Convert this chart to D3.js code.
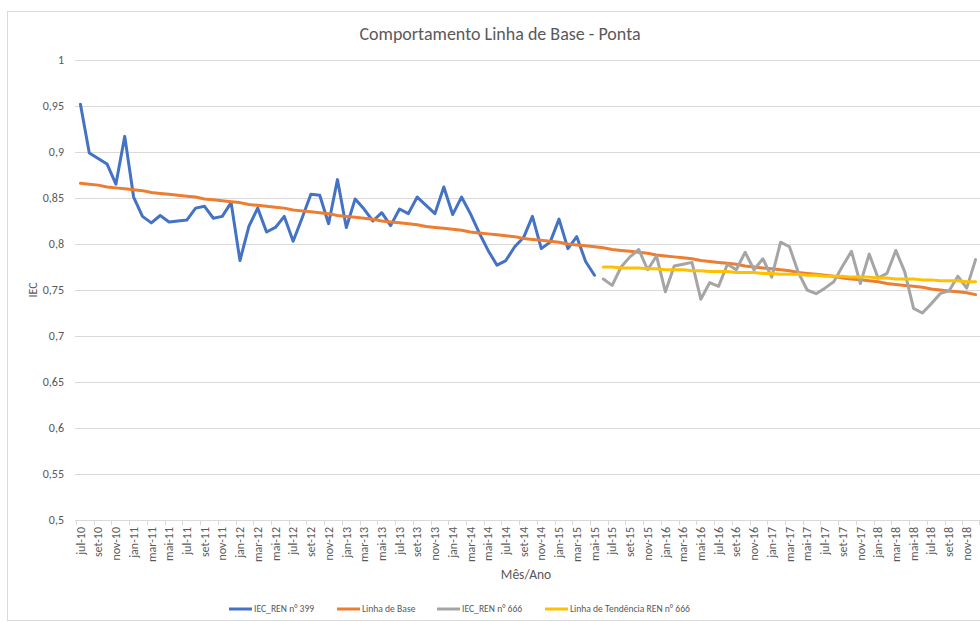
<!DOCTYPE html>
<html lang="pt-BR">
<head>
    <meta charset="UTF-8">
    <title>Comportamento Linha de Base - Ponta</title>
    <script src="https://d3js.org/d3.v7.min.js"></script>
    <style>
        body { margin: 0; background: #fff; }
        svg { display: block; font-family: Carlito, Lato, "Open Sans", sans-serif; }
        .grid line { stroke: #d9d9d9; stroke-width: 1; }
        .tick-label { fill: #595959; font-size: 12px; }
    </style>
</head>
<body>
<div id="chart"></div>
<script>
    // categorias: jul-10 .. dez-18
    const monthNames = ["jan", "fev", "mar", "abr", "mai", "jun", "jul", "ago", "set", "out", "nov", "dez"];
    const categories = [];
    for (let y = 2010; y <= 2018; y++) {
        monthNames.forEach((m, i) => {
            if (y === 2010 && i < 6) return;
            categories.push(m + "-" + String(y).slice(2));
        });
    }

    const yTicks = [0.5, 0.55, 0.6, 0.65, 0.7, 0.75, 0.8, 0.85, 0.9, 0.95, 1];

    // IEC_REN n° 399 (jul-10 .. mai-15)
    const ren399 = [0.952, 0.899, 0.893, 0.887, 0.865, 0.917, 0.851, 0.830, 0.823, 0.831,
        0.824, 0.825, 0.826, 0.839, 0.841, 0.828, 0.830, 0.845, 0.782, 0.819,
        0.839, 0.813, 0.818, 0.830, 0.803, 0.828, 0.854, 0.853, 0.822, 0.870,
        0.818, 0.849, 0.838, 0.825, 0.834, 0.820, 0.838, 0.833, 0.851, 0.842,
        0.833, 0.862, 0.832, 0.851, 0.833, 0.812, 0.793, 0.777, 0.782, 0.797,
        0.807, 0.830, 0.795, 0.802, 0.827, 0.795, 0.808, 0.781, 0.766];

    // Linha de Base (jul-10 .. dez-18)
    const linhaBase = [0.866, 0.865, 0.864, 0.862, 0.861, 0.860, 0.859, 0.858, 0.856, 0.855,
        0.854, 0.853, 0.852, 0.851, 0.849, 0.848, 0.847, 0.846, 0.845, 0.843,
        0.842, 0.841, 0.840, 0.839, 0.837, 0.836, 0.835, 0.834, 0.833, 0.831,
        0.830, 0.829, 0.828, 0.827, 0.825, 0.824, 0.823, 0.822, 0.821, 0.819,
        0.818, 0.817, 0.816, 0.815, 0.813, 0.812, 0.811, 0.810, 0.809, 0.808,
        0.806, 0.805, 0.804, 0.803, 0.802, 0.800, 0.799, 0.798, 0.797, 0.796,
        0.794, 0.793, 0.792, 0.791, 0.790, 0.788, 0.787, 0.786, 0.785, 0.784,
        0.782, 0.781, 0.780, 0.779, 0.778, 0.776, 0.775, 0.774, 0.773, 0.772,
        0.771, 0.769, 0.768, 0.767, 0.766, 0.765, 0.763, 0.762, 0.761, 0.760,
        0.759, 0.757, 0.756, 0.755, 0.754, 0.753, 0.751, 0.750, 0.749, 0.748,
        0.747, 0.745];

    // IEC_REN n° 666 (jun-15 .. dez-18)
    const ren666Start = "jun-15";
    const ren666 = [0.762, 0.755, 0.775, 0.786, 0.794, 0.772, 0.787, 0.748, 0.776, 0.778,
        0.780, 0.740, 0.758, 0.754, 0.778, 0.772, 0.791, 0.772, 0.784, 0.764,
        0.802, 0.797, 0.769, 0.750, 0.746, 0.752, 0.759, 0.776, 0.792, 0.757,
        0.789, 0.763, 0.768, 0.793, 0.770, 0.730, 0.725, 0.735, 0.746, 0.749,
        0.765, 0.752, 0.783];

    // Linha de Tendência REN n° 666 (jun-15 .. dez-18)
    const tendencia666 = [0.775, 0.775, 0.774, 0.774, 0.774, 0.773, 0.773, 0.772, 0.772, 0.772,
        0.771, 0.771, 0.770, 0.770, 0.770, 0.769, 0.769, 0.769, 0.768, 0.768,
        0.767, 0.767, 0.767, 0.766, 0.766, 0.765, 0.765, 0.765, 0.764, 0.764,
        0.764, 0.763, 0.763, 0.762, 0.762, 0.762, 0.761, 0.761, 0.760, 0.760,
        0.760, 0.759, 0.759];

    const width = 980, height = 622;
    const plot = { left: 76, right: 980, top: 60, bottom: 520 };

    const svg = d3.select("#chart").append("svg")
        .attr("width", width)
        .attr("height", height);

    // moldura
    svg.append("rect")
        .attr("x", 7.5).attr("y", 11.5)
        .attr("width", 990).attr("height", 609)
        .attr("fill", "#fff")
        .attr("stroke", "#d9d9d9");

    const x = d3.scaleBand()
        .domain(categories)
        .range([plot.left, plot.right]);

    const y = d3.scaleLinear()
        .domain([0.5, 1])
        .range([plot.bottom, plot.top]);

    const cx = c => x(c) + x.bandwidth() / 2;

    // grade horizontal
    svg.append("g")
        .attr("class", "grid")
        .selectAll("line")
        .data(yTicks)
        .enter().append("line")
        .attr("x1", plot.left - 1).attr("x2", plot.right)
        .attr("y1", d => Math.round(y(d)) + 0.5)
        .attr("y2", d => Math.round(y(d)) + 0.5);

    // rótulos do eixo Y
    const fmt = d => String(+d.toFixed(2)).replace(".", ",");
    svg.append("g")
        .selectAll("text")
        .data(yTicks)
        .enter().append("text")
        .attr("class", "tick-label")
        .attr("x", 64)
        .attr("y", d => y(d))
        .attr("dy", "0.35em")
        .attr("text-anchor", "end")
        .text(fmt);

    // marcas e rótulos do eixo X (intervalo de 2)
    const shown = categories.filter((c, i) => i % 2 === 0);
    svg.append("g")
        .selectAll("line")
        .data(shown.concat(["__end"]))
        .enter().append("line")
        .attr("x1", d => d === "__end" ? plot.right - 0.5 : Math.round(x(d)) + 0.5)
        .attr("x2", d => d === "__end" ? plot.right - 0.5 : Math.round(x(d)) + 0.5)
        .attr("y1", plot.bottom)
        .attr("y2", plot.bottom + 5)
        .attr("stroke", "#d9d9d9");

    svg.append("g")
        .selectAll("text")
        .data(shown)
        .enter().append("text")
        .attr("class", "tick-label")
        .attr("transform", d => `translate(${cx(d)},527) rotate(-90)`)
        .attr("dy", "0.35em")
        .attr("text-anchor", "end")
        .text(d => d);

    // títulos
    svg.append("text")
        .attr("x", 500).attr("y", 40)
        .attr("text-anchor", "middle")
        .attr("fill", "#595959")
        .attr("font-size", 18)
        .text("Comportamento Linha de Base - Ponta");

    svg.append("text")
        .attr("x", 526).attr("y", 579)
        .attr("text-anchor", "middle")
        .attr("fill", "#595959")
        .attr("font-size", 13.5)
        .text("Mês/Ano");

    svg.append("text")
        .attr("transform", `translate(37,${(plot.top + plot.bottom) / 2}) rotate(-90)`)
        .attr("text-anchor", "middle")
        .attr("fill", "#595959")
        .attr("font-size", 12)
        .text("IEC");

    // séries
    const startIdx = categories.indexOf(ren666Start);
    const series = [
        { name: "IEC_REN n° 399", color: "#4472C4", start: 0, values: ren399 },
        { name: "Linha de Base", color: "#ED7D31", start: 0, values: linhaBase },
        { name: "IEC_REN n° 666", color: "#A5A5A5", start: startIdx, values: ren666 },
        { name: "Linha de Tendência REN n° 666", color: "#FFC000", start: startIdx, values: tendencia666 }
    ];

    const line = d3.line()
        .x(d => cx(d.cat))
        .y(d => y(d.v));

    svg.append("g")
        .selectAll("path")
        .data(series)
        .enter().append("path")
        .attr("fill", "none")
        .attr("stroke", d => d.color)
        .attr("stroke-width", 3)
        .attr("stroke-linejoin", "round")
        .attr("stroke-linecap", "round")
        .attr("d", s => line(s.values.map((v, i) => ({ cat: categories[s.start + i], v }))));

    // legenda
    const legendX = [229, 337, 437, 545];
    const legend = svg.append("g")
        .selectAll("g")
        .data(series)
        .enter().append("g")
        .attr("transform", (d, i) => `translate(${legendX[i]},609)`);

    legend.append("line")
        .attr("x1", 0).attr("x2", 23)
        .attr("stroke", d => d.color)
        .attr("stroke-width", 3);

    legend.append("text")
        .attr("x", 25)
        .attr("dy", "0.35em")
        .attr("fill", "#595959")
        .attr("font-size", 9.6)
        .text(d => d.name);
</script>
</body>
</html>
